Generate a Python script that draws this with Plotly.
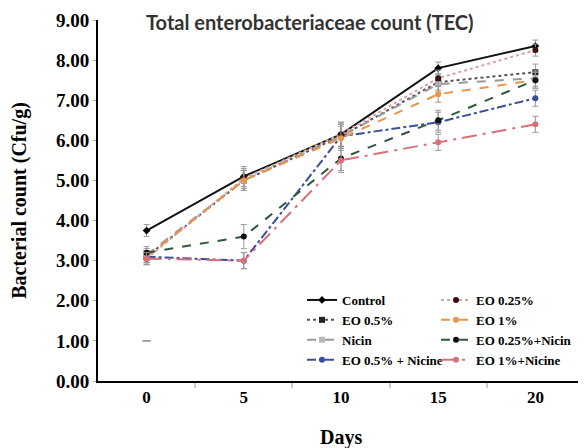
import plotly.graph_objects as go

days = [0, 5, 10, 15, 20]
y_ticks = [0, 1, 2, 3, 4, 5, 6, 7, 8, 9]

control = [3.75, 5.10, 6.15, 7.80, 8.35]
eo_025 = [3.05, 5.05, 6.15, 7.55, 8.25]
eo_05 = [3.10, 5.00, 6.10, 7.45, 7.70]
eo_1 = [3.10, 5.00, 6.05, 7.15, 7.50]
nicin = [3.15, 5.00, 6.10, 7.40, 7.55]
eo_025_nicin = [3.20, 3.60, 5.55, 6.50, 7.50]
eo_05_nicine = [3.10, 3.00, 6.10, 6.45, 7.05]
eo_1_nicine = [3.05, 3.00, 5.50, 5.95, 6.40]

err_control = [0.15, 0.25, 0.30, 0.15, 0.15]
err_eo_025 = [0.15, 0.25, 0.30, 0.20, 0.15]
err_eo_05 = [0.15, 0.25, 0.30, 0.20, 0.20]
err_eo_1 = [0.15, 0.25, 0.30, 0.20, 0.20]
err_nicin = [0.15, 0.25, 0.30, 0.20, 0.20]
err_eo_025_nicin = [0.15, 0.30, 0.30, 0.25, 0.20]
err_eo_05_nicine = [0.15, 0.20, 0.30, 0.25, 0.20]
err_eo_1_nicine = [0.15, 0.20, 0.30, 0.20, 0.20]

stray_x = [0]
stray_y = [1.0]

series = [
    ("Control", control, err_control, "#111111", "solid", "diamond", "#000000", "legend"),
    ("EO 0.5%", eo_05, err_eo_05, "#555555", "dot", "square", "#222222", "legend"),
    ("Nicin", nicin, err_nicin, "#9a9a9a", "dash", "square", "#bbbbbb", "legend"),
    ("EO 0.5% + Nicine", eo_05_nicine, err_eo_05_nicine, "#3a4f9a", "dashdot", "circle", "#3a4f9a", "legend"),
    ("EO 0.25%", eo_025, err_eo_025, "#d9a0a0", "dot", "circle", "#3a1010", "legend2"),
    ("EO 1%", eo_1, err_eo_1, "#e8964a", "dash", "circle", "#e8964a", "legend2"),
    ("EO 0.25%+Nicin", eo_025_nicin, err_eo_025_nicin, "#2f5a3a", "dash", "circle", "#111111", "legend2"),
    ("EO 1%+Nicine", eo_1_nicine, err_eo_1_nicine, "#d9707a", "longdashdot", "circle", "#d9707a", "legend2"),
]

fig = go.Figure()
for name, vals, err, color, dash, sym, mcol, leg in series:
    fig.add_trace(go.Scatter(
        x=days, y=vals, name=name, mode="lines+markers",
        line=dict(color=color, width=2, dash=dash),
        marker=dict(symbol=sym, size=6, color=mcol),
        error_y=dict(type="data", array=err, visible=True, color="#999999", thickness=1, width=3),
        legend=leg,
    ))

fig.add_trace(go.Scatter(
    x=stray_x, y=stray_y, mode="markers", showlegend=False,
    marker=dict(symbol="line-ew", size=6, line=dict(color="#888888", width=1.5)),
))

# the page body has an 8px margin, so the figure is drawn 8px in from the top-left
OFF = 8
W, H = 586 - OFF, 448 - OFF
L, R, T, B = 98 - OFF, 2, 20 - OFF, 67
ph = H - T - B
pw = W - L - R


def py(ref_pix):
    return (H - B - (ref_pix - OFF)) / ph


def px(ref_pix):
    return (ref_pix - OFF - L) / pw


legfont = dict(family="Liberation Serif", size=13, color="black", weight="bold")
fig.update_layout(
    width=W, height=H,
    margin=dict(l=L, r=R, t=T, b=B, autoexpand=False),
    paper_bgcolor="white", plot_bgcolor="white",
    font=dict(family="Liberation Serif", color="black"),
    showlegend=True,
    legend=dict(x=px(302), y=py(285), xanchor="left", yanchor="top", bgcolor="rgba(0,0,0,0)",
                font=legfont, tracegroupgap=0, itemwidth=30),
    legend2=dict(x=px(436), y=py(285), xanchor="left", yanchor="top", bgcolor="rgba(0,0,0,0)",
                 font=legfont, tracegroupgap=0, itemwidth=30),
    annotations=[
        dict(text="Total enterobacteriaceae count (TEC)",
             x=px(310), y=py(22), xanchor="center", yanchor="middle",
             xref="paper", yref="paper", showarrow=False,
             font=dict(family="Lato", size=20, color="#333333", weight="bold")),
        dict(text="Days",
             x=px(341), y=py(437), xanchor="center", yanchor="middle",
             xref="paper", yref="paper", showarrow=False,
             font=dict(family="Liberation Serif", size=20, color="black", weight="bold")),
    ],
)

fig.update_xaxes(
    range=[-2.5, 22.5], tickvals=days, ticktext=[str(d) for d in days],
    showline=True, linecolor="black", linewidth=2, ticks="", showgrid=False, zeroline=False,
    tickfont=dict(family="Liberation Serif", size=17, color="black", weight="bold"),
    automargin=False,
    minor=dict(tickvals=[2.5, 7.5, 12.5, 17.5], ticks="outside", ticklen=5, tickcolor="#cccccc", tickwidth=2),
)
fig.update_yaxes(
    range=[0, 9], tickvals=y_ticks, tickformat=".2f",
    showline=True, linecolor="black", linewidth=2, ticks="outside", ticklen=3, tickcolor="#aaaaaa",
    showgrid=False, zeroline=False, automargin=False,
    tickfont=dict(family="Liberation Serif", size=19, color="black", weight="bold"),
    title=dict(text="Bacterial count (Cfu/g)", font=dict(family="Liberation Serif", size=20, color="black", weight="bold"), standoff=24),
)

fig.write_html("out.html")
